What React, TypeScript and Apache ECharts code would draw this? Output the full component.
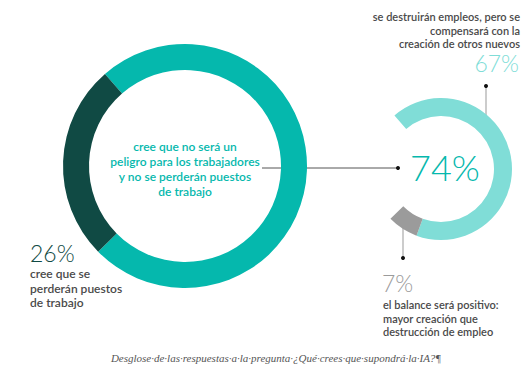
import React, { useEffect, useRef } from "react";
import * as echarts from "echarts";

const bigCategories = ["no será un peligro", "se perderán puestos"];
const bigValues = [74, 26];
const smallCategories = ["se compensará", "balance positivo", ""];
const smallValues = [67, 7, 26];

const TEAL = "#05b8ad";
const DARK = "#104a44";
const LIGHT = "#80ddd7";
const GRAY = "#9b9b9b";
const TXT = "#4a4a4a";
const FONT = "Lato, 'Open Sans', sans-serif";

export default function App() {
  const ref = useRef<HTMLDivElement>(null);
  useEffect(() => {
    const chart = echarts.init(ref.current!, null, { renderer: "svg" });
    chart.setOption({
      animation: false,
      backgroundColor: "#ffffff",
      series: [
        {
          type: "pie",
          center: [185, 166],
          radius: [96, 122],
          startAngle: 131,
          silent: true,
          label: { show: false },
          labelLine: { show: false },
          data: bigCategories.map((n, i) => ({
            name: n,
            value: bigValues[i],
            itemStyle: { color: [TEAL, DARK][i] },
          })),
        },
        {
          type: "pie",
          center: [441, 169],
          radius: [53, 71],
          startAngle: 131,
          silent: true,
          label: { show: false },
          labelLine: { show: false },
          data: smallCategories.map((n, i) => ({
            name: n,
            value: smallValues[i],
            itemStyle: { color: [LIGHT, GRAY, "rgba(0,0,0,0)"][i] },
          })),
        },
      ],
      graphic: [
        // leader lines
        { type: "line", shape: { x1: 262, y1: 168, x2: 398, y2: 168 }, style: { stroke: "#555", lineWidth: 1 } },
        { type: "circle", shape: { cx: 398, cy: 168, r: 2 }, style: { fill: "#111" } },
        { type: "line", shape: { x1: 486, y1: 86, x2: 486, y2: 124 }, style: { stroke: "#bbb", lineWidth: 1.5 } },
        { type: "circle", shape: { cx: 486, cy: 86, r: 2 }, style: { fill: "#111" } },
        { type: "line", shape: { x1: 403, y1: 220, x2: 403, y2: 258 }, style: { stroke: "#bbb", lineWidth: 1.5 } },
        { type: "circle", shape: { cx: 403, cy: 258, r: 2 }, style: { fill: "#111" } },
        // center text
        {
          type: "text", x: 185, y: 169,
          style: {
            text: "cree que no será un\npeligro para los trabajadores\ny no se perderán puestos\nde trabajo",
            fill: TEAL, font: `600 12px ${FONT}`, align: "center", verticalAlign: "middle", lineHeight: 14.7,
          },
        },
        {
          type: "text", x: 30, y: 253,
          style: { text: bigValues[1] + "%", fill: DARK, font: `300 23px ${FONT}`, align: "left", verticalAlign: "middle" },
        },
        {
          type: "text", x: 30, y: 288,
          style: {
            text: "cree que se\nperderán puestos\nde trabajo",
            fill: TXT, font: `600 12px ${FONT}`, align: "left", verticalAlign: "middle", lineHeight: 14.8,
          },
        },
        {
          type: "text", x: 520, y: 30,
          style: {
            text: "se destruirán empleos, pero se\ncompensará con la\ncreación de otros nuevos",
            fill: TXT, font: `600 11px ${FONT}`, align: "right", verticalAlign: "middle", lineHeight: 13.5,
          },
        },
        {
          type: "text", x: 519, y: 63,
          style: { text: smallValues[0] + "%", fill: LIGHT, font: `300 23px ${FONT}`, align: "right", verticalAlign: "middle" },
        },
        {
          type: "text", x: 445, y: 167,
          style: { text: (smallValues[0] + smallValues[1]) + "%", fill: TEAL, font: `300 36px ${FONT}`, align: "center", verticalAlign: "middle" },
        },
        {
          type: "text", x: 382, y: 283,
          style: { text: smallValues[1] + "%", fill: GRAY, font: `300 23px ${FONT}`, align: "left", verticalAlign: "middle" },
        },
        {
          type: "text", x: 383, y: 318,
          style: {
            text: "el balance será positivo:\nmayor creación que\ndestrucción de empleo",
            fill: TXT, font: `600 11px ${FONT}`, align: "left", verticalAlign: "middle", lineHeight: 13.2,
          },
        },
        {
          type: "text", x: 276, y: 358,
          style: {
            text: "Desglose·de·las·respuestas·a·la·pregunta·¿Qué·crees·que·supondrá·la·IA?¶",
            fill: "#555", font: `italic 11px 'Liberation Serif', 'DejaVu Serif', serif`, align: "center", verticalAlign: "middle",
          },
        },
      ],
    });
    return () => chart.dispose();
  }, []);
  return <div ref={ref} style={{ position: "fixed", left: 0, top: 0, width: 532, height: 372 }} />;
}
